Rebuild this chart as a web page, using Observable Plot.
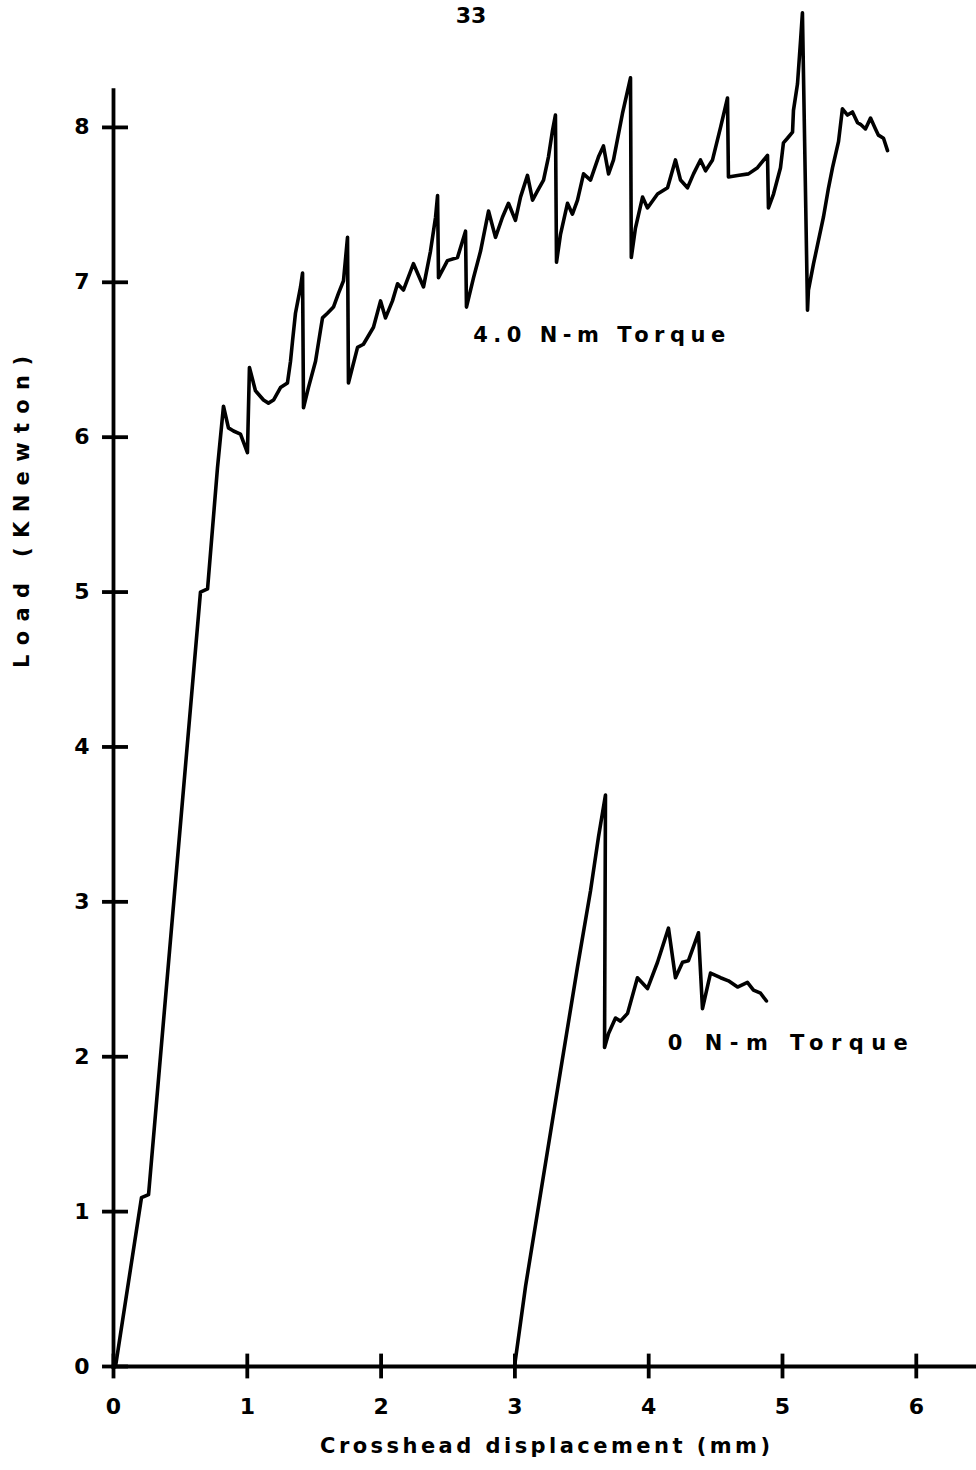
<!DOCTYPE html>
<html>
<head>
<meta charset="utf-8">
<script src="https://cdn.jsdelivr.net/npm/d3@7"></script>
<script src="https://cdn.jsdelivr.net/npm/@observablehq/plot@0.6"></script>
<style>
  html, body { margin: 0; padding: 0; background: #fff; }
  #wrap { position: relative; width: 976px; height: 1470px; }
  #page { position: absolute; left: 0; top: 3px; width: 942px; text-align: center;
          font-family: "DejaVu Sans", sans-serif; font-weight: bold; font-size: 22px; color: #000; }
</style>
</head>
<body>
<div id="wrap">
  <div id="page">33</div>
  <div id="chart"></div>
</div>
<script>
// 4.0 N-m torque curve: crosshead displacement (mm), load (kN)
const torque4X = [0.015,0.209,0.262,0.650,0.703,0.777,0.822,0.859,0.897,0.949,1.001,1.016,1.061,1.121,1.158,1.196,1.248,1.300,1.323,1.338,1.360,1.398,1.413,1.420,1.457,1.510,1.547,1.562,1.599,1.644,1.682,1.719,1.749,1.756,1.824,1.868,1.943,1.996,2.033,2.085,2.123,2.167,2.242,2.317,2.369,2.407,2.422,2.429,2.496,2.571,2.631,2.638,2.691,2.743,2.803,2.855,2.907,2.952,3.004,3.042,3.094,3.132,3.169,3.214,3.251,3.281,3.303,3.311,3.341,3.393,3.430,3.468,3.513,3.565,3.625,3.662,3.700,3.737,3.804,3.864,3.870,3.901,3.954,3.991,4.066,4.141,4.200,4.238,4.290,4.335,4.387,4.425,4.477,4.537,4.589,4.596,4.664,4.746,4.813,4.888,4.895,4.933,4.985,5.007,5.037,5.075,5.082,5.112,5.135,5.149,5.187,5.194,5.232,5.269,5.306,5.344,5.374,5.419,5.448,5.486,5.523,5.561,5.583,5.620,5.658,5.695,5.717,5.755,5.785];
const torque4Y = [0.00,1.09,1.11,5.00,5.02,5.80,6.20,6.06,6.04,6.02,5.90,6.45,6.30,6.24,6.22,6.24,6.32,6.35,6.49,6.62,6.80,6.97,7.06,6.19,6.32,6.49,6.69,6.77,6.80,6.84,6.93,7.01,7.29,6.35,6.58,6.60,6.71,6.88,6.77,6.88,6.99,6.95,7.12,6.97,7.20,7.42,7.56,7.03,7.14,7.16,7.33,6.84,7.03,7.20,7.46,7.29,7.42,7.51,7.40,7.55,7.69,7.53,7.59,7.66,7.81,7.98,8.08,7.13,7.31,7.51,7.44,7.53,7.70,7.66,7.81,7.88,7.70,7.79,8.09,8.32,7.16,7.35,7.55,7.48,7.57,7.61,7.79,7.66,7.61,7.70,7.79,7.72,7.79,8.00,8.19,7.68,7.69,7.70,7.74,7.82,7.48,7.57,7.74,7.90,7.93,7.97,8.11,8.28,8.56,8.74,6.82,6.95,7.12,7.27,7.42,7.61,7.74,7.91,8.12,8.08,8.10,8.03,8.02,7.99,8.06,7.99,7.95,7.93,7.85];

// 0 N-m torque curve
const torque0X = [2.997,3.080,3.341,3.468,3.565,3.625,3.677,3.670,3.700,3.752,3.789,3.842,3.916,3.991,4.066,4.148,4.200,4.253,4.297,4.372,4.402,4.462,4.537,4.596,4.664,4.738,4.783,4.836,4.880];
const torque0Y = [0.00,0.52,1.91,2.58,3.07,3.42,3.69,2.06,2.15,2.25,2.23,2.28,2.51,2.44,2.61,2.83,2.51,2.61,2.62,2.80,2.31,2.54,2.51,2.49,2.45,2.48,2.43,2.41,2.36];

const xTicks = [0, 1, 2, 3, 4, 5, 6];
const yTicks = [0, 1, 2, 3, 4, 5, 6, 7, 8];

const xTitle = "Crosshead displacement (mm)";
const yTitle = "Load (KNewton)";
const labels = [
  {x: 3.63, y: 6.66, text: "4.0 N-m Torque"},
  {x: 5.04, y: 2.085, text: "0 N-m Torque"}
];

const upper = torque4X.map((x, i) => ({x, y: torque4Y[i]}));
const lower = torque0X.map((x, i) => ({x, y: torque0Y[i]}));

const chart = Plot.plot({
  width: 976,
  height: 1470,
  marginLeft: 113,
  marginRight: 0,
  marginTop: 3,
  marginBottom: 104,
  style: {fontFamily: "DejaVu Sans, sans-serif", fontSize: "22px", fontWeight: "bold", color: "#000", background: "#fff"},
  x: {domain: [0, 6.45]},
  y: {domain: [0, 8.8]},
  marks: [
    Plot.ruleX([0], {y1: -0.02, y2: 8.25, stroke: "#000", strokeWidth: 3.8}),
    Plot.ruleY([0], {x1: -0.01, x2: 6.45, stroke: "#000", strokeWidth: 3.8}),
    Plot.ruleX(xTicks, {x: d => d, y1: -0.08, y2: 0.08, stroke: "#000", strokeWidth: 3.8}),
    Plot.ruleY(yTicks, {y: d => d, x1: -0.082, x2: 0.112, stroke: "#000", strokeWidth: 3.8}),
    Plot.axisX(xTicks, {tickSize: 0, tickPadding: 32, label: null, tickFormat: "d", fontSize: 22}),
    Plot.axisY(yTicks, {tickSize: 0, tickPadding: 24, label: null, tickFormat: "d", fontSize: 22}),
    Plot.line(upper, {x: "x", y: "y", stroke: "#000", strokeWidth: 3.6, strokeLinejoin: "round", strokeLinecap: "round"}),
    Plot.line(lower, {x: "x", y: "y", stroke: "#000", strokeWidth: 3.6, strokeLinejoin: "round", strokeLinecap: "round"}),
    Plot.text(labels, {x: "x", y: "y", text: "text", fontSize: 21, fill: "#000"}),
    Plot.text([xTitle], {frameAnchor: "bottom", dy: 86, fontSize: 21, fill: "#000"}),
    Plot.text([yTitle], {frameAnchor: "left", dx: -91, dy: -17, rotate: -90, fontSize: 21, fill: "#000"})
  ]
});

// spread letters like the typewritten original
const widths = {
  "Crosshead displacement (mm)": 450,
  "Load (KNewton)": 312,
  "4.0 N-m Torque": 252,
  "0 N-m Torque": 240
};
d3.select(chart).selectAll("text").each(function() {
  const t = this.textContent;
  if (widths[t]) {
    this.setAttribute("textLength", widths[t]);
    this.setAttribute("lengthAdjust", "spacing");
  }
});
document.getElementById("chart").appendChild(chart);
</script>
</body>
</html>
